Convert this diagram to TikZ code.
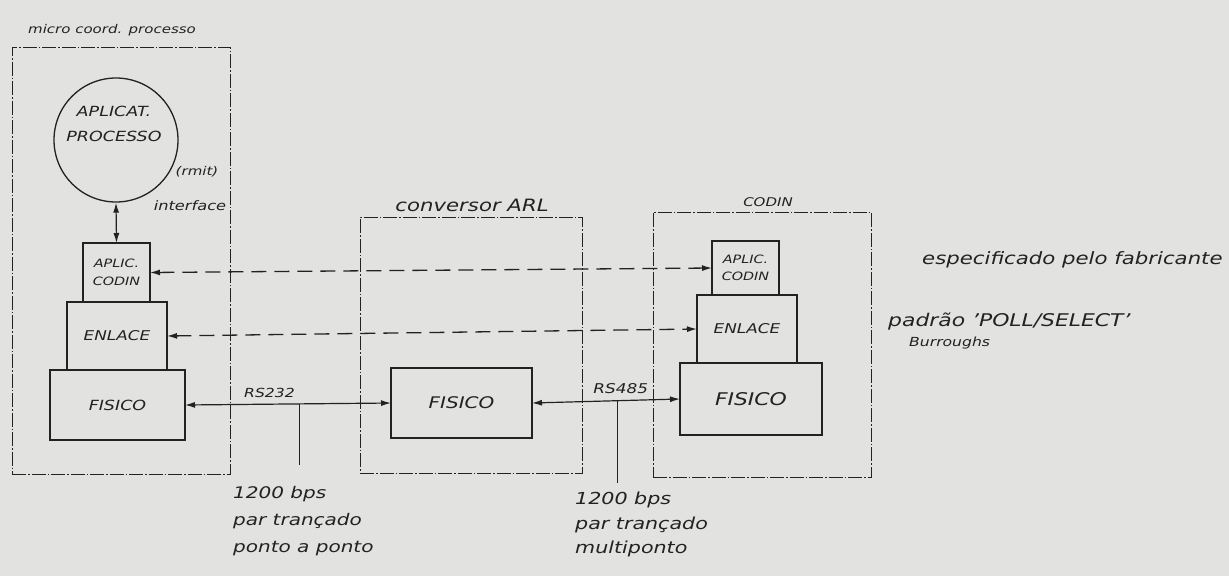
\documentclass[tikz,border=0pt]{standalone}
\usepackage{fontspec}
\newfontfamily\handff[FakeStretch=1.25]{DejaVu Sans}
\usetikzlibrary{arrows.meta,calc}
\definecolor{paper}{RGB}{226,226,224}
\definecolor{ink}{RGB}{34,34,34}
\newcommand{\handfont}[1]{\handff\itshape\fontsize{#1}{#1}\selectfont}
\begin{document}
\begin{tikzpicture}[x=1pt,y=-1pt,
  txt/.style={inner sep=0pt, text=ink},
  layerbox/.style={draw=ink, line width=1.5pt, inner sep=0pt, outer sep=0pt, text=ink, align=center},
  frame/.style={draw=ink, line width=0.8pt, dash pattern=on 14pt off 2pt on 1.5pt off 2pt, inner sep=0pt, outer sep=0pt},
  peer/.style={draw=ink, line width=1.3pt, dash pattern=on 15pt off 8pt, {Latex[length=10pt,width=6pt]}-{Latex[length=10pt,width=6pt]}},
  wire/.style={draw=ink, line width=1.2pt, {Latex[length=10pt,width=6pt]}-{Latex[length=10pt,width=6pt]}},
  tickline/.style={draw=ink, line width=1pt}]
\fill[paper] (0,0) rectangle (1229,576);
\useasboundingbox (0,0) rectangle (1229,576);
% frames
\node[frame, minimum width=218pt, minimum height=427pt] (mframe) at (121,260.5) {};
\node[frame, minimum width=222pt, minimum height=256pt] (cframe) at (471,345) {};
\node[frame, minimum width=218pt, minimum height=265pt] (dframe) at (762,344.5) {};
\node[txt, font=\handfont{12}] (mlabel) at (112,30) {micro coord. processo};
\node[txt, font=\handfont{17}] (clabel) at (472,205) {conversor ARL};
\node[txt, font=\handfont{12}] (dlabel) at (768,202) {CODIN};
% application process
\node[draw=ink, line width=1.3pt, circle, minimum size=124pt, inner sep=0pt] (app) at (116,140) {};
\node[txt, font=\handfont{14}, align=center] (apptxt) at (114,124) {APLICAT.\\[11pt]PROCESSO};
\node[txt, font=\handfont{12}] (rmit) at (197,172) {(rmit)};
\node[txt, font=\handfont{13}] (iface) at (190,206) {interface};
% micro layers
\node[layerbox, minimum width=67pt, minimum height=59pt, font=\handfont{11.5}] (ap1) at (116.5,272.5) {APLIC.\\[6pt]CODIN};
\node[layerbox, minimum width=100pt, minimum height=68pt, font=\handfont{13.5}] (en1) at (117,336) {ENLACE};
\node[layerbox, minimum width=135pt, minimum height=70pt, font=\handfont{14}] (fi1) at (117.5,405) {FISICO};
% converter
\node[layerbox, minimum width=141pt, minimum height=70pt, font=\handfont{16}] (fi2) at (461.5,403) {FISICO};
% CODIN layers
\node[layerbox, minimum width=67pt, minimum height=54pt, font=\handfont{11.5}] (ap2) at (745.5,268) {APLIC.\\[5pt]CODIN};
\node[layerbox, minimum width=100pt, minimum height=68pt, font=\handfont{13.5}] (en2) at (747,329) {ENLACE};
\node[layerbox, minimum width=142pt, minimum height=72pt, font=\handfont{17.5}] (fi3) at (751,399) {FISICO};
% connectors
\draw[wire] (app.south) -- (ap1.north);
\draw[peer] (ap1.east) -- (ap2.west);
\draw[peer] (en1.east) -- (en2.west);
\draw[wire] (fi1.east) -- (fi2.west) coordinate[pos=0.558] (t1)
  node[pos=0.41, above=6pt, txt, font=\handfont{12.5}] (rs232) {RS232};
\draw[wire] (fi2.east) -- (fi3.west) coordinate[pos=0.58] (t2)
  node[pos=0.6, above=6pt, txt, font=\handfont{13.5}] (rs485) {RS485};
\draw[tickline] (t1) -- ++(0,61);
\draw[tickline] (t2) -- ++(0,82);
% notes
\node[txt, font=\handfont{16}, align=left, anchor=north west] (n1) at (233,486) {1200 bps\\[11pt]par trançado\\[11pt]ponto a ponto};
\node[txt, font=\handfont{16.5}, align=left, anchor=north west] (n2) at (575,492) {1200 bps\\[8pt]par trançado\\[8pt]multiponto};
\node[txt, font=\handfont{17}, anchor=base west] (spec) at (922,264) {especificado pelo fabricante};
\node[txt, font=\handfont{17.5}, anchor=base west] (pad) at (888,326) {padrão ’POLL/SELECT’};
\node[txt, font=\handfont{12.5}, anchor=base west] (burr) at (909,346) {Burroughs};
\end{tikzpicture}
\end{document}
